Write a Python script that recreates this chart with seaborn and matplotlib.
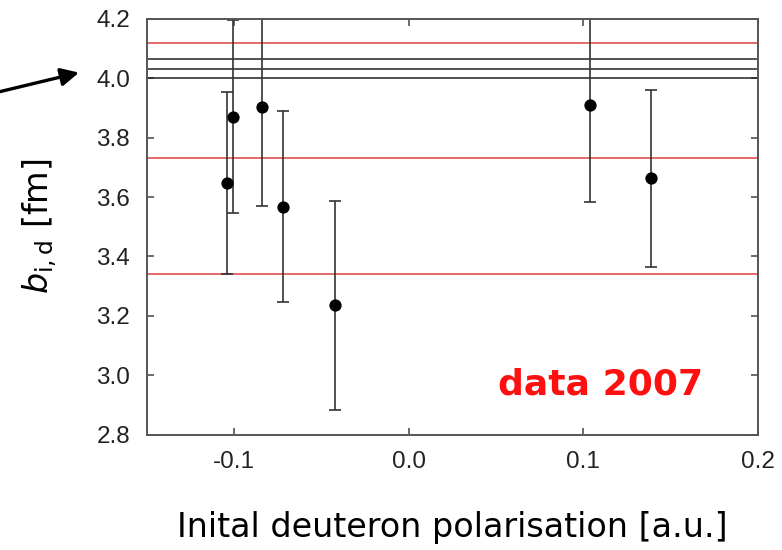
import matplotlib
matplotlib.use("Agg")
import matplotlib.pyplot as plt
import seaborn as sns
import pandas as pd

# Scattering length per run vs. initial deuteron polarisation
polarisation = [-0.104, -0.1006, -0.084, -0.072, -0.042, 0.104, 0.139]
b_id = [3.648, 3.871, 3.905, 3.567, 3.236, 3.909, 3.663]
b_err = [0.307, 0.325, 0.335, 0.322, 0.352, 0.325, 0.298]

# Reference bands: red = fit of this data set, black = earlier value
red_levels = [4.12, 3.73, 3.34]
black_levels = [4.0, 4.033, 4.066]

x_ticks = [-0.1, 0.0, 0.1, 0.2]
x_tick_labels = ["-0.1", "0.0", "0.1", "0.2"]
y_ticks = [2.8, 3.0, 3.2, 3.4, 3.6, 3.8, 4.0, 4.2]
y_tick_labels = ["2.8", "3.0", "3.2", "3.4", "3.6", "3.8", "4.0", "4.2"]

df = pd.DataFrame({"pol": polarisation, "b": b_id, "err": b_err})

sns.set_theme(style="ticks")
plt.rcParams["font.family"] = ["DejaVu Sans"]

fig = plt.figure(figsize=(7.82, 5.5), dpi=100)
ax = fig.add_axes([0.1876, 0.21, 0.7814, 0.7555])

for lvl in red_levels:
    ax.axhline(lvl, color="#e04040", lw=1.1, zorder=1)
for lvl in black_levels:
    ax.axhline(lvl, color="#222222", lw=1.1, zorder=1)

ax.errorbar(df["pol"], df["b"], yerr=df["err"], fmt="none",
            ecolor="#333333", elinewidth=1.2, capsize=4.5, capthick=1.2, zorder=2)
sns.scatterplot(data=df, x="pol", y="b", color="black", s=78,
                edgecolor="black", linewidth=0, ax=ax, zorder=3)

ax.set_xlim(-0.15, 0.2)
ax.set_ylim(2.8, 4.2)
ax.set_xticks(x_ticks)
ax.set_xticklabels(x_tick_labels)
ax.set_yticks(y_ticks)
ax.set_yticklabels(y_tick_labels)
ax.tick_params(direction="in", top=True, right=True, length=5, width=1.1,
               color="#444444", labelsize=17.5, labelcolor="#222222", pad=12)
for lab in ax.get_xticklabels() + ax.get_yticklabels():
    lab.set_fontfamily("Liberation Sans")
for sp in ax.spines.values():
    sp.set_color("#555555")
    sp.set_linewidth(1.4)

ax.set_xlabel("Inital deuteron polarisation [a.u.]", fontsize=24, color="black")
ax.xaxis.set_label_coords(0.5, -0.223)
ax.xaxis.label.set_va("center")
ax.set_ylabel(r"$b_{\mathrm{i,d}}$ [fm]", fontsize=24, color="black")
ax.yaxis.set_label_coords(-0.175, 0.5)
ax.yaxis.label.set_va("center")

ax.text(0.110, 2.968, "data 2007", color="#ff1010", fontsize=26,
        fontweight="bold", ha="center", va="center")

ax.annotate("", xy=(0.101, 0.868), xycoords="figure fraction",
            xytext=(-0.01, 0.83), textcoords="figure fraction",
            arrowprops=dict(arrowstyle="-|>,head_length=0.9,head_width=0.45",
                            color="black", lw=2.4, shrinkA=0, shrinkB=0),
            annotation_clip=False)

fig.savefig("out.png", dpi=100)
